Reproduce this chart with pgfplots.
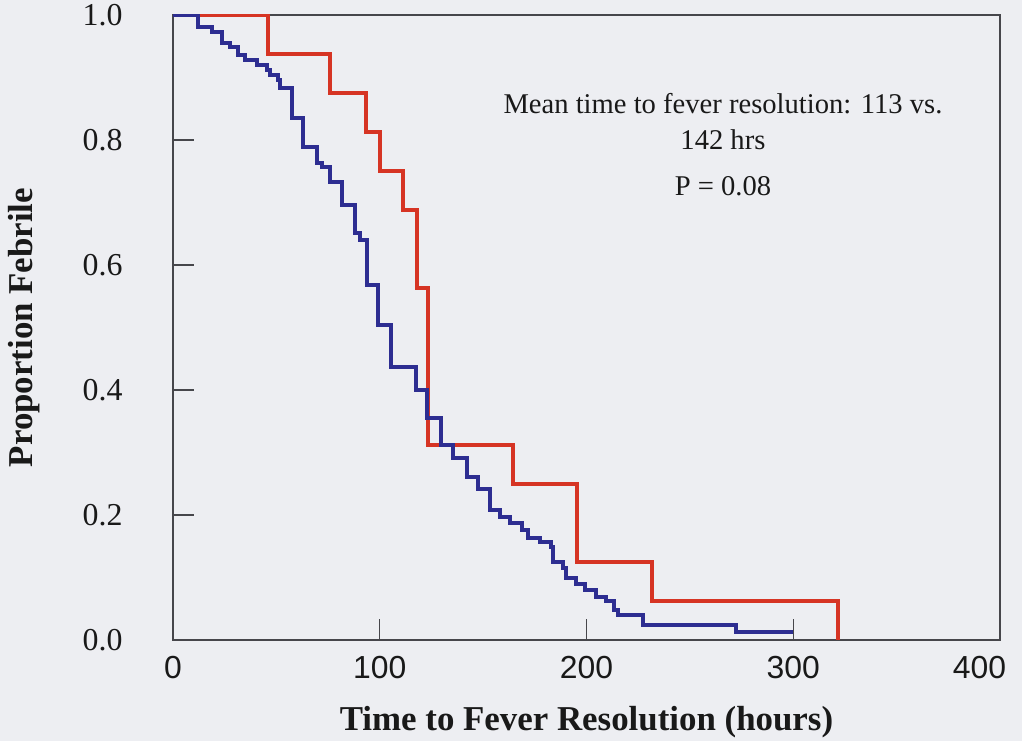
\documentclass[border=0pt]{standalone}
\usepackage{fontspec}
\setmainfont{Liberation Serif}
\newfontfamily\arialfont{Liberation Sans}
\usepackage{pgfplots}
\pgfplotsset{compat=1.18}
\definecolor{kmred}{RGB}{214,52,36}
\definecolor{kmblue}{RGB}{45,45,145}
\definecolor{bgc}{RGB}{237,238,242}
\definecolor{axc}{RGB}{70,70,75}
\definecolor{txt}{RGB}{25,25,25}
\begin{document}
\begin{tikzpicture}
\fill[bgc] (-173bp,-101bp) rectangle (849bp,640bp);
\path[use as bounding box] (-173bp,-101bp) rectangle (849bp,640bp);
\begin{axis}[
  at={(0,0)}, anchor=south west,
  width=827bp, height=625bp, scale only axis,
  xmin=0, xmax=400, ymin=0, ymax=1,
  xtick={0,100,200,300,400},
  xticklabels={0,100,200,300,{\makebox[0pt][r]{400\hspace{-6bp}}}},
  ytick={0,0.2,0.4,0.6,0.8,1.0},
  tick align=inside, tick pos=left,
  major tick length=21bp,
  axis line style={draw=axc, line width=1.5bp},
  tick style={draw=axc, line width=1.5bp},
  /pgf/number format/assume math mode=true,
  yticklabel style={font=\fontsize{32}{32}\selectfont, text=txt, xshift=-47bp,
    /pgf/number format/.cd, fixed, fixed zerofill, precision=1},
  xticklabel style={font=\arialfont\fontsize{32}{32}\selectfont, text=txt, yshift=-13bp},
  xlabel={Time to Fever Resolution (hours)},
  ylabel={Proportion Febrile},
  xlabel style={font=\bfseries\fontsize{35}{35}\selectfont, text=txt,
    at={(axis description cs:0.5,-0.131)}, anchor=center},
  ylabel style={font=\bfseries\fontsize{35}{35}\selectfont, text=txt,
    at={(axis description cs:-0.180,0.5)}, anchor=center},
]
\addplot[const plot, kmred, line width=4bp] coordinates {
(0,1.0) (46.0,0.9375) (76.0,0.875) (93.5,0.8125) (100.2,0.75)
(111.4,0.6875) (118.2,0.5625) (123.5,0.3125) (164.6,0.25)
(195.6,0.125) (231.5,0.0625) (321.5,0.0)
};
\addplot[const plot, kmblue, line width=4bp] coordinates {
(0,1.0) (12.1,0.981) (18.9,0.973) (23.7,0.955) (27.6,0.949) (31.5,0.936)
(34.9,0.928) (40.7,0.920) (45.5,0.912) (47.0,0.904) (50.8,0.896)
(51.8,0.883) (57.6,0.835) (63.0,0.789) (69.7,0.763) (72.2,0.757)
(76.0,0.733) (81.8,0.696) (88.1,0.651) (90.6,0.640) (93.9,0.568)
(99.3,0.504) (105.6,0.437) (117.7,0.400) (123.0,0.355) (129.8,0.312)
(135.6,0.291) (142.4,0.261) (147.7,0.242) (153.5,0.208) (158.4,0.197)
(163.2,0.187) (169.0,0.176) (171.9,0.163) (177.7,0.157) (182.6,0.149)
(184.0,0.125) (188.4,0.115) (190.3,0.099) (194.7,0.090) (199.5,0.080)
(204.4,0.069) (209.2,0.062) (213.1,0.048) (215.0,0.040) (227.1,0.024)
(272.2,0.013) (299.8,0.013)
};
\node[font=\fontsize{28.7}{36}\selectfont, text=txt, align=center, anchor=center]
  at (axis cs:266,0.829) {Mean time to fever resolution: 113 vs.\\142 hrs};
\node[font=\fontsize{28.7}{36}\selectfont, text=txt, anchor=center]
  at (axis cs:266,0.726) {P = 0.08};
\end{axis}
\end{tikzpicture}
\end{document}
